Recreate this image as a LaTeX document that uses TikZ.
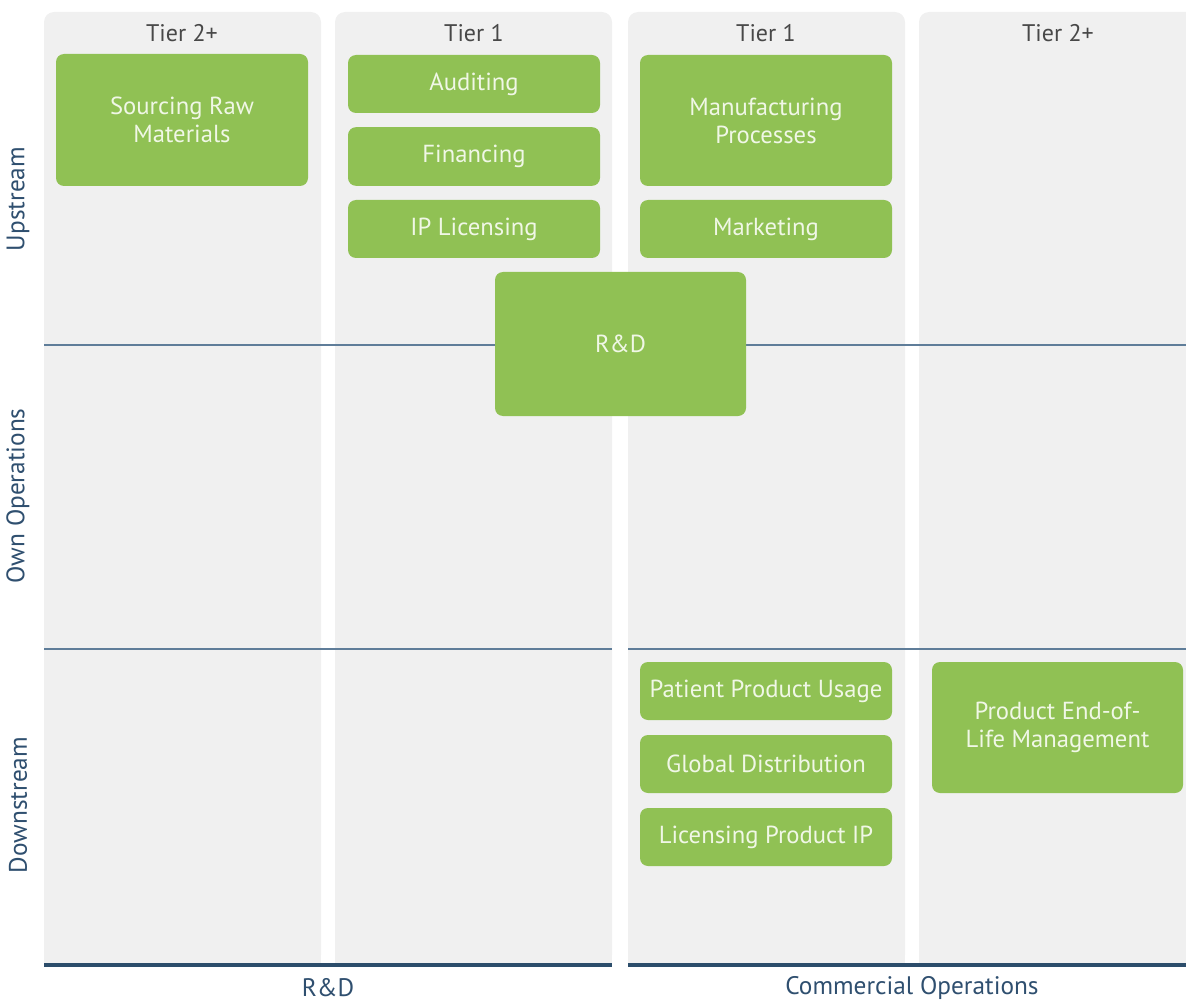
\documentclass[tikz,border=0pt]{standalone}
\usepackage{fontspec}
\setmainfont{PT Sans}
\definecolor{colbg}{RGB}{240,240,240}
\definecolor{gbox}{RGB}{144,193,84}
\definecolor{gtext}{RGB}{240,247,230}
\definecolor{thinln}{RGB}{95,125,153}
\definecolor{thickln}{RGB}{44,77,107}
\definecolor{sidelbl}{RGB}{47,79,111}
\definecolor{tierlbl}{RGB}{72,72,72}
\tikzset{
  greenbox/.style={fill=gbox, draw=none, rounded corners=6pt, text=gtext, align=center,
    font=\fontsize{18.5}{21}\selectfont, inner sep=0pt},
  tierlabel/.style={text=tierlbl, font=\fontsize{18}{21}\selectfont},
  sidelabel/.style={text=sidelbl, font=\fontsize{19}{22}\selectfont},
  rowline/.style={draw=thinln, line width=1.3pt},
  baseline/.style={draw=thickln, line width=2.4pt},
}
\begin{document}
\begin{tikzpicture}[x=0.75pt,y=-0.75pt]
\useasboundingbox (0,0) rectangle (1186,1002);
\clip (0,0) rectangle (1186,1002);
% columns
\foreach \a/\b in {44/321, 335/612, 628/905, 919/1220}{
  \fill[colbg, rounded corners=7.5pt] (\a,12) rectangle (\b,965);
  \fill[colbg] (\a,500) rectangle (\b,965);
}
% row separators
\draw[rowline] (44,345) -- (612,345);
\draw[rowline] (628,345) -- (1186,345);
\draw[rowline] (44,649) -- (612,649);
\draw[rowline] (628,649) -- (1186,649);
% base lines
\draw[baseline] (44,965) -- (612,965);
\draw[baseline] (628,965) -- (1186,965);
% tier labels
\node[tierlabel] (t1) at (182,33) {Tier 2+};
\node[tierlabel] (t2) at (474,33) {Tier 1};
\node[tierlabel] (t3) at (766,33) {Tier 1};
\node[tierlabel] (t4) at (1058,33) {Tier 2+};
% side labels
\node[sidelabel, rotate=90] (up) at (18,199) {Upstream};
\node[sidelabel, rotate=90] (own) at (18,496) {Own Operations};
\node[sidelabel, rotate=90] (down) at (18,805) {Downstream};
% bottom labels
\node[sidelabel, inner sep=0pt] (brd) at (328,988) {R\&D};
\node[sidelabel, inner sep=0pt] (bco) at (912,988) {Commercial Operations};
% green boxes
\node[greenbox, minimum width=189pt, minimum height=99pt] (src) at (182,120) {Sourcing Raw\\Materials};
\node[greenbox, minimum width=189pt, minimum height=43.5pt] (aud) at (474,84) {Auditing};
\node[greenbox, minimum width=189pt, minimum height=44pt] (fin) at (474,156.5) {Financing};
\node[greenbox, minimum width=189pt, minimum height=43.5pt] (ipl) at (474,229) {IP Licensing};
\node[greenbox, minimum width=189pt, minimum height=98.25pt] (man) at (766,120.5) {Manufacturing\\Processes};
\node[greenbox, minimum width=189pt, minimum height=43.5pt] (mkt) at (766,229) {Marketing};
\node[greenbox, minimum width=188.25pt, minimum height=108pt] (rd) at (620.5,344) {R\&D};
\node[greenbox, minimum width=189pt, minimum height=43.5pt] (pat) at (766,691) {Patient Product Usage};
\node[greenbox, minimum width=189pt, minimum height=43.5pt] (glo) at (766,764) {Global Distribution};
\node[greenbox, minimum width=189pt, minimum height=43.5pt] (lic) at (766,837) {Licensing Product IP};
\node[greenbox, minimum width=188.25pt, minimum height=98.25pt] (eol) at (1057.5,727.5) {Product End-of-\\Life Management};
\end{tikzpicture}
\end{document}
